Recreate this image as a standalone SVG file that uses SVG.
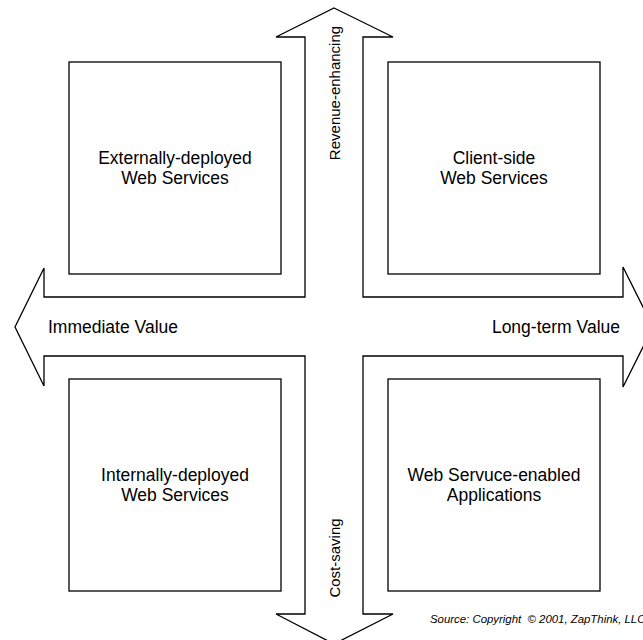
<svg xmlns="http://www.w3.org/2000/svg" width="643" height="640" viewBox="0 0 643 640">
  <style>
    .shape { fill: #ffffff; stroke: #000000; stroke-width: 1.3; }
    .label { font-family: "Liberation Sans", Arial, sans-serif; font-size: 17.5px; fill: #000000; }
    .axis { font-family: "Liberation Sans", Arial, sans-serif; font-size: 15px; fill: #000000; }
    .mid { text-anchor: middle; }
    .note { font-family: "Liberation Sans", Arial, sans-serif; font-size: 11.4px; font-style: italic; fill: #000000; }
  </style>
  <rect width="643" height="640" fill="#ffffff"/>

  <!-- Four-way arrow cross -->
  <g id="connectors">
    <polygon class="shape" points="334,8 393,37 363,37 363,297 623,297 623,267 653,327 623,387 623,356 363,356 363,614 393,614 334,644 276,614 305,614 305,356 44,356 44,386 15,327 44,268 44,297 305,297 305,37 276,37"/>
    <text class="axis mid" transform="translate(340,93) rotate(-90)">Revenue-enhancing</text>
    <text class="axis mid" transform="translate(340,558) rotate(-90)">Cost-saving</text>
    <text class="label" x="48" y="333">Immediate Value</text>
    <text class="label" x="620" y="333" text-anchor="end">Long-term Value</text>
  </g>

  <g id="externally-deployed">
    <rect class="shape" x="69" y="62" width="212" height="212"/>
    <text class="label mid" x="175" y="164">Externally-deployed</text>
    <text class="label mid" x="175" y="184">Web Services</text>
  </g>

  <g id="client-side">
    <rect class="shape" x="388" y="62" width="212" height="212"/>
    <text class="label mid" x="494" y="164">Client-side</text>
    <text class="label mid" x="494" y="184">Web Services</text>
  </g>

  <g id="internally-deployed">
    <rect class="shape" x="69" y="379" width="212" height="212"/>
    <text class="label mid" x="175" y="481">Internally-deployed</text>
    <text class="label mid" x="175" y="501">Web Services</text>
  </g>

  <g id="service-enabled-apps">
    <rect class="shape" x="388" y="379" width="212" height="212"/>
    <text class="label mid" x="494" y="481">Web Servuce-enabled</text>
    <text class="label mid" x="494" y="501">Applications</text>
  </g>

  <text class="note" x="430" y="623">Source: Copyright&#160; © 2001, ZapThink, LLC</text>
</svg>
